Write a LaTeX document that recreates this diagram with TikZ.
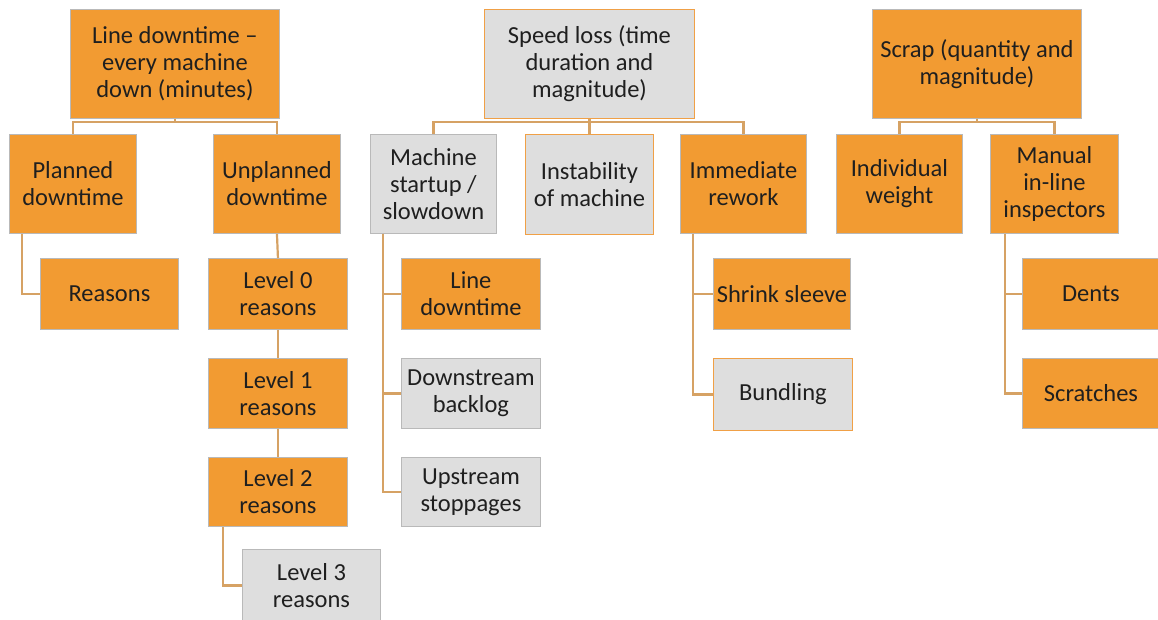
\documentclass[tikz,border=0pt]{standalone}
\usepackage{fontspec}
\setmainfont{Carlito}
\definecolor{orfill}{RGB}{242,155,50}
\definecolor{grfill}{RGB}{222,222,222}
\definecolor{grline}{RGB}{185,185,185}
\definecolor{orline}{RGB}{240,160,70}
\definecolor{conncol}{RGB}{214,162,100}
\begin{document}
\begin{tikzpicture}[x=1pt,y=-1pt,
  base/.style={rectangle, anchor=north west, inner sep=0pt, align=center, line width=0.9pt,
    font=\fontsize{24.5}{27}\selectfont, text=black!88},
  ob/.style={base, fill=orfill, draw=grline},
  gb/.style={base, fill=grfill, draw=grline},
  gob/.style={base, fill=grfill, draw=orline},
  conn/.style={draw=conncol, line width=2.2pt}]
\useasboundingbox (0,0) rectangle (1158,620);
% Column 1
\node[ob, minimum width=209pt, minimum height=109pt] (LD1) at (70,9) {Line downtime --\\ every machine\\ down (minutes)};
\node[ob, minimum width=127pt, minimum height=99pt] (PD) at (9,134) {Planned\\ downtime};
\node[ob, minimum width=127pt, minimum height=99pt] (UD) at (213,134) {Unplanned\\ downtime};
\node[ob, minimum width=138pt, minimum height=71pt] (RS) at (40,258) {Reasons};
\node[ob, minimum width=139pt, minimum height=71pt] (L0) at (208,258) {Level 0\\ reasons};
\node[ob, minimum width=139pt, minimum height=70pt] (L1) at (208,358) {Level 1\\ reasons};
\node[ob, minimum width=139pt, minimum height=69pt] (L2) at (208,457) {Level 2\\ reasons};
\node[gb, minimum width=138pt, minimum height=72pt] (L3) at (242,549) {Level 3\\ reasons};
% Column 2
\node[gob, minimum width=210pt, minimum height=109pt] (SL) at (484,9) {Speed loss (time\\ duration and\\ magnitude)};
\node[gb, minimum width=126pt, minimum height=99pt] (MS) at (370,134) {Machine\\ startup /\\ slowdown};
\node[gob, minimum width=128pt, minimum height=100pt] (IM) at (525,134) {Instability\\ of machine};
\node[ob, minimum width=126pt, minimum height=99pt] (IR) at (680,134) {Immediate\\ rework};
\node[ob, minimum width=139pt, minimum height=71pt] (LD2) at (401,258) {Line\\ downtime};
\node[gb, minimum width=139pt, minimum height=70pt] (DB) at (401,358) {Downstream\\ backlog};
\node[gb, minimum width=139pt, minimum height=69pt] (US) at (401,457) {Upstream\\ stoppages};
\node[ob, minimum width=137pt, minimum height=71pt] (SS) at (713,258) {Shrink sleeve};
\node[gob, minimum width=139pt, minimum height=72pt] (BU) at (713,358) {Bundling};
% Column 3
\node[ob, minimum width=209pt, minimum height=109pt] (SC0) at (872,9) {Scrap (quantity and\\ magnitude)};
\node[ob, minimum width=126pt, minimum height=99pt] (IW) at (836,134) {Individual\\ weight};
\node[ob, minimum width=128pt, minimum height=99pt] (MI) at (990,134) {Manual\\ in-line\\ inspectors};
\node[ob, minimum width=137pt, minimum height=71pt] (DE) at (1022,258) {Dents};
\node[ob, minimum width=137pt, minimum height=70pt] (SCR) at (1022,358) {Scratches};
% Connectors column 1
\draw[conn] (LD1.south) -- ([yshift=-3pt]LD1.south);
\draw[conn] (PD.north) |- ([yshift=-3pt]LD1.south) -| (UD.north);
\draw[conn] ([xshift=13pt]PD.south west) |- (RS.west);
\draw[conn] (UD.south) -- (L0.north);
\draw[conn] (L0.south) -- (L1.north);
\draw[conn] (L1.south) -- (L2.north);
\draw[conn] ([xshift=15pt]L2.south west) |- (L3.west);
% Connectors column 2
\draw[conn] (SL.south) -- ([yshift=-3pt]SL.south);
\draw[conn] (MS.north) |- ([yshift=-3pt]SL.south) -| (IR.north);
\draw[conn] ([yshift=-3pt]SL.south) -- (IM.north);
\draw[conn] ([xshift=13pt]MS.south west) |- (LD2.west);
\draw[conn] ([xshift=13pt]MS.south west) |- (DB.west);
\draw[conn] ([xshift=13pt]MS.south west) |- (US.west);
\draw[conn] ([xshift=13pt]IR.south west) |- (SS.west);
\draw[conn] ([xshift=13pt]IR.south west) |- (BU.west);
% Connectors column 3
\draw[conn] (SC0.south) -- ([yshift=-3pt]SC0.south);
\draw[conn] (IW.north) |- ([yshift=-3pt]SC0.south) -| (MI.north);
\draw[conn] ([xshift=15pt]MI.south west) |- (DE.west);
\draw[conn] ([xshift=15pt]MI.south west) |- (SCR.west);
\end{tikzpicture}
\end{document}
